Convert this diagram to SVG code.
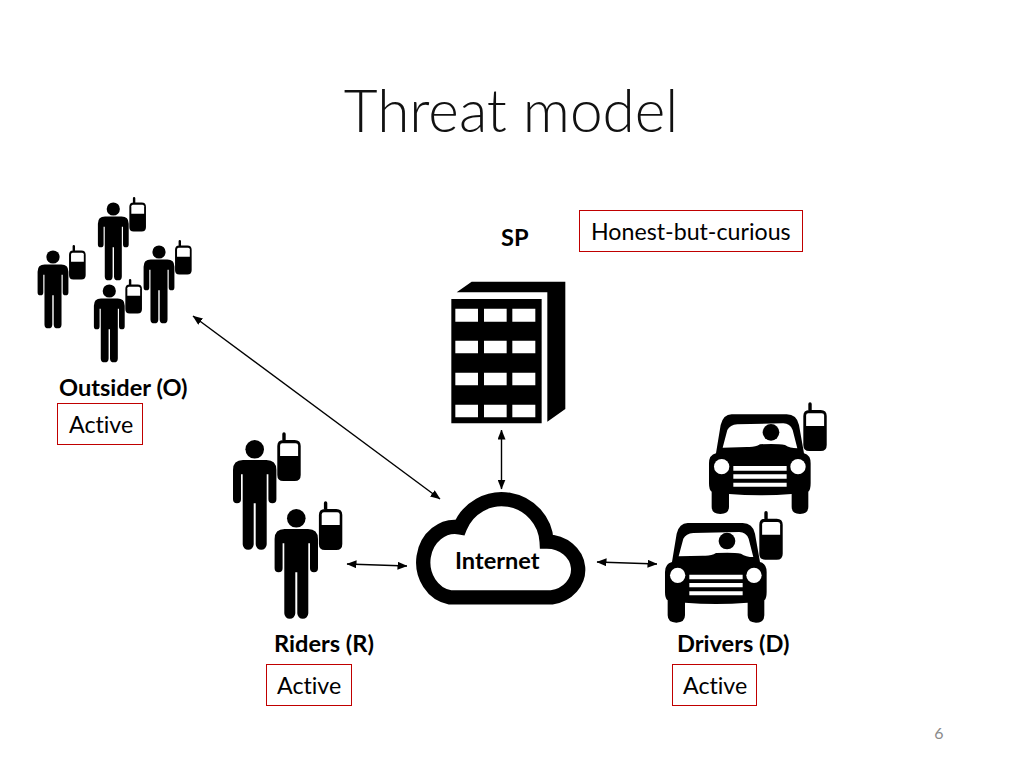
<svg xmlns="http://www.w3.org/2000/svg" width="1024" height="768" viewBox="0 0 1024 768">
<style>
text{font-family:Lato,"Open Sans","Liberation Sans",sans-serif;fill:#000;font-variant-ligatures:none}
.title{font-size:58.5px;font-weight:300;fill:#111}
.b{font-size:23.6px;font-weight:700}
.t{font-size:23.2px}
.box{fill:#fff;stroke:#c00000;stroke-width:1}
.c{fill:none;stroke:#000;stroke-width:1.4;marker-start:url(#a);marker-end:url(#a)}
</style>
<defs>
<marker id="a" viewBox="0 0 10 8" refX="9.5" refY="4" markerWidth="10" markerHeight="8" markerUnits="userSpaceOnUse" orient="auto-start-reverse"><path d="M0 0L10 4L0 8Z" fill="#000"/></marker>
<g id="phone">
<path fill="#000" d="M5 0V-6A1.7 1.7 0 0 1 8.4 -6V0H17.4Q23.4 0 23.4 6V35Q23.4 41 17.4 41H6Q0 41 0 35V6Q0 0 6 0Z"/>
<path fill="#fff" d="M2.8 16V5.5Q2.8 3.2 5 3.2H18.4Q20.8 3.2 20.8 5.5V16Z"/>
</g>
<g id="person">
<circle r="9.3" fill="#000"/>
<path fill="#000" d="M-11.7 10.7H11.7Q21.7 10.7 21.7 20.7V50A4 4 0 0 1 13.7 50V25H12V95A5.5 5.5 0 0 1 1 95V54H-1V95A5.5 5.5 0 0 1 -12 95V25H-13.7V50A4 4 0 0 1 -21.7 50V20.7Q-21.7 10.7 -11.7 10.7Z"/>
<use href="#phone" x="22.6" y="-9.3"/>
</g>
<g id="car">
<path fill="#000" d="M245 58H410Q440 58 447 90L462 175Q482 180 482 205V265Q482 285 475 290V335Q475 357 450 357Q425 357 425 335V297Q330 305 237 297V335Q237 357 211 357Q185 357 185 335V290Q177 285 177 265V205Q177 180 198 175L212 90Q220 58 245 58Z"/>
<path fill="#fff" d="M218 158L232 105Q240 90 262 88L400 85Q420 85 428 105L442 160Q420 160 405 150Q380 145 330 148Q315 158 290 156Z"/>
<circle cx="363" cy="112" r="25" fill="#000"/>
<circle cx="215" cy="215" r="23" fill="#fff"/>
<circle cx="444" cy="215" r="23" fill="#fff"/>
<path fill="#fff" d="M250 213H410V227H250ZM250 238H410V251H250ZM250 263H410V275H250Z"/>
<g transform="translate(460 45) scale(3)"><use href="#phone"/></g>
</g>
</defs>
<rect width="1024" height="768" fill="#fff"/>
<text class="title" x="511" y="132" text-anchor="middle">Threat model</text>
<g id="connectors">
<path class="c" d="M193 316L440 499"/>
<path class="c" d="M501.500 430V489"/>
<path class="c" d="M347 564L407 566"/>
<path class="c" d="M597 562L657 564"/>
</g>
<g id="outsider">
<use href="#person" transform="translate(113.3 209) scale(.71)"/>
<use href="#person" transform="translate(53 257) scale(.71)"/>
<use href="#person" transform="translate(159 252) scale(.71)"/>
<use href="#person" transform="translate(109.3 291) scale(.71)"/>
<text class="b" x="59" y="395.500">Outsider (O)</text>
<rect class="box" x="57.500" y="403.500" width="85" height="41"/>
<text class="t" x="69" y="433">Active</text>
</g>
<g id="sp">
<text class="b" x="501" y="246">SP</text>
<g transform="translate(430 270) scale(.3333)">
<path fill="#000" d="M80 67L125 35H406V417L352 455V67Z"/>
<path fill="#000" fill-rule="evenodd" d="M64 87H335V460H64ZM76 116V155H144V116ZM162 116V155H230V116ZM247 116V155H316V116ZM76 212V250H144V212ZM162 212V250H230V212ZM247 212V250H316V212ZM76 308V346H144V308ZM162 308V346H230V308ZM247 308V346H316V308ZM76 404V442H144V404ZM162 404V442H230V404ZM247 404V442H316V404Z"/>
</g>
<rect class="box" x="579.500" y="210.500" width="223" height="41"/>
<text class="t" x="591" y="240">Honest-but-curious</text>
</g>
<g id="internet">
<path transform="translate(405 480) scale(.3333)" fill="none" stroke="#000" stroke-width="43" d="M135 352H440A94 84 0 0 0 425 185A135 135 0 0 0 165 142A95 106 0 0 0 135 352Z"/>
<text class="b" x="455" y="568.500">Internet</text>
</g>
<g id="riders">
<use href="#person" transform="translate(254.7 449.3)"/>
<use href="#person" transform="translate(296.3 518.3)"/>
<text class="b" x="274" y="651.500">Riders (R)</text>
<rect class="box" x="266.500" y="664.500" width="85" height="41"/>
<text class="t" x="277" y="694">Active</text>
</g>
<g id="drivers">
<use href="#car" transform="translate(650 395) scale(.3333)"/>
<use href="#car" transform="translate(606 503.7) scale(.3333)"/>
<text class="b" x="677" y="651.500">Drivers (D)</text>
<rect class="box" x="672.500" y="664.500" width="84" height="41"/>
<text class="t" x="683" y="694">Active</text>
</g>
<text x="939" y="739" text-anchor="middle" font-size="16" style="fill:#8a8a8a">6</text>
</svg>
